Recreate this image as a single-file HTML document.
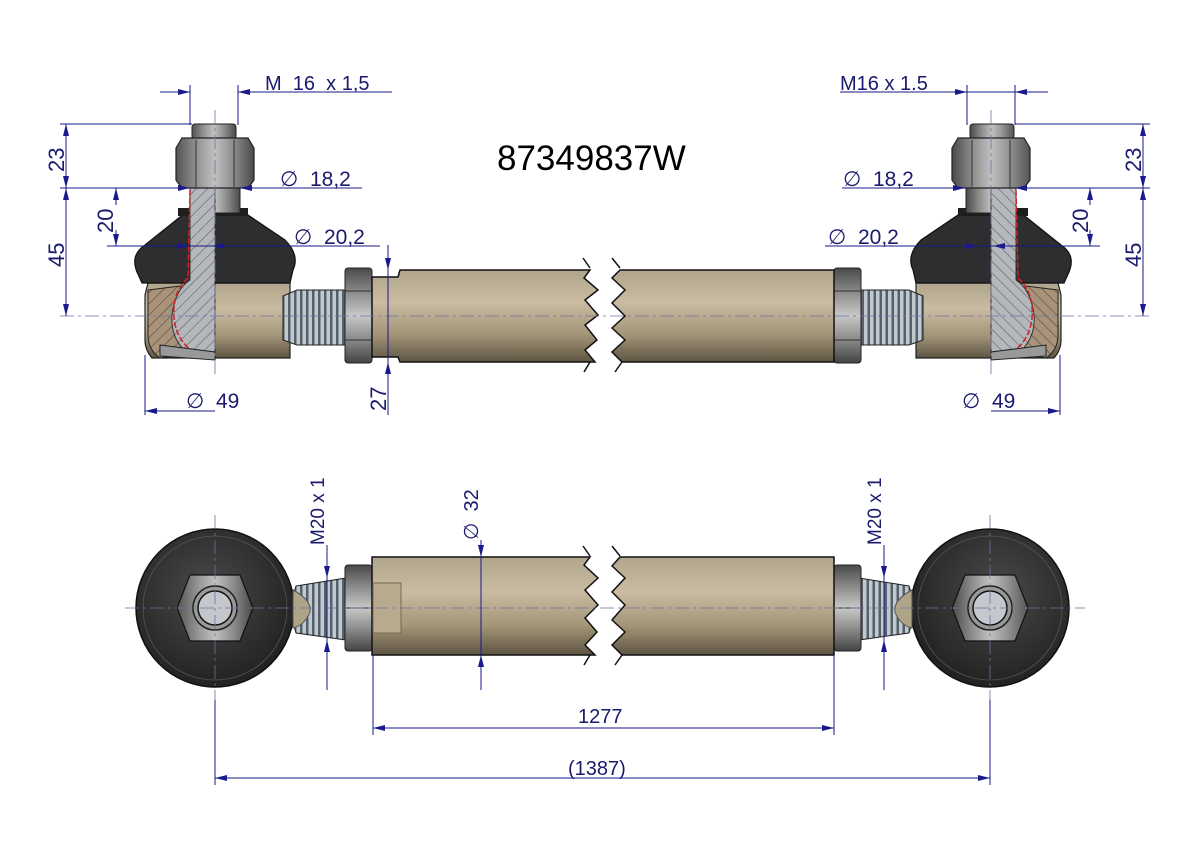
<!DOCTYPE html>
<html><head><meta charset="utf-8"><style>
html,body{margin:0;padding:0;background:#fff}
svg{display:block}
text{font-family:"Liberation Sans",sans-serif;fill:#1a1a6e}
</style></head><body>
<svg width="1191" height="842" viewBox="0 0 1191 842" xmlns="http://www.w3.org/2000/svg">
<defs>
<linearGradient id="tube" x1="0" y1="0" x2="0" y2="1">
<stop offset="0" stop-color="#b0a48c"/><stop offset="0.35" stop-color="#c9bca2"/><stop offset="0.7" stop-color="#a39578"/><stop offset="1" stop-color="#5e5443"/></linearGradient>
<linearGradient id="nut" x1="0" y1="0" x2="0" y2="1">
<stop offset="0" stop-color="#4a4a4a"/><stop offset="0.25" stop-color="#8a8a8a"/><stop offset="0.5" stop-color="#c8c8c8"/><stop offset="0.75" stop-color="#8a8a8a"/><stop offset="1" stop-color="#444"/></linearGradient>
<linearGradient id="hexn" x1="0" y1="0" x2="1" y2="0">
<stop offset="0" stop-color="#555"/><stop offset="0.3" stop-color="#9a9a9a"/><stop offset="0.5" stop-color="#c0c0c0"/><stop offset="0.75" stop-color="#8a8a8a"/><stop offset="1" stop-color="#4a4a4a"/></linearGradient>
<pattern id="thr" width="6" height="10" patternUnits="userSpaceOnUse">
<rect width="6" height="10" fill="#c0c8d0"/><rect width="2.5" height="10" fill="#55606a"/></pattern>
<pattern id="hatch" width="8" height="8" patternUnits="userSpaceOnUse" patternTransform="rotate(45)">
<rect width="8" height="8" fill="#b4b8bc"/><line x1="0" y1="0" x2="0" y2="8" stroke="#555" stroke-width="1"/></pattern>
<pattern id="hatch2" width="8" height="8" patternUnits="userSpaceOnUse" patternTransform="rotate(45)">
<rect width="8" height="8" fill="#a8937a"/><line x1="0" y1="0" x2="0" y2="8" stroke="#4a3a2a" stroke-width="1"/></pattern>
<radialGradient id="disk" cx="0.45" cy="0.4" r="0.6">
<stop offset="0" stop-color="#4a4a4a"/><stop offset="1" stop-color="#222"/></radialGradient>
<marker id="ar" markerWidth="12" markerHeight="6" refX="12" refY="3" orient="auto" markerUnits="userSpaceOnUse">
<path d="M0,0 L12,3 L0,6 z" fill="#1a1a8a"/></marker>

<g id="joint">
 <path d="M148,283 L290,283 L290,358 L152,358 Q145,350 145,340 L145,295 Z" fill="url(#tube)" stroke="#222" stroke-width="1.2"/>
 <path d="M148,290 L180,286 L200,300 L210,350 L160,358 Q148,350 148,335 Z" fill="url(#hatch2)" stroke="#222" stroke-width="1"/>
 <path d="M283,296 L297,290 L346,290 L346,345 L297,345 L283,340 Z" fill="url(#thr)" stroke="#222" stroke-width="1"/>
 <path d="M185,213 L245,213 L285,240 Q300,255 293,270 L290,283 L142,283 L137,272 Q130,255 145,245 Z" fill="#2e2e30" stroke="#111" stroke-width="1.2"/>
 <rect x="178" y="208" width="70" height="8" fill="#1e1e1e"/>
 <path d="M190,188 L240,188 L240,213 L190,213 Z" fill="url(#hexn)" stroke="#222" stroke-width="1"/>
 <path d="M190,188 L215,188 L215,355 L190,355 Q170,340 172,315 Q175,290 190,280 Z" fill="url(#hatch)" stroke="#333" stroke-width="1"/>
 <path d="M190,190 L188,278 Q172,292 174,318 Q177,345 200,355" fill="none" stroke="#d02020" stroke-width="1.5" stroke-dasharray="6,2"/>
 <path d="M160,345 L215,352 L215,360 L160,356 Z" fill="#999" stroke="#222"/>
 <rect x="192" y="124" width="44" height="15" rx="3" fill="url(#hexn)" stroke="#222"/>
 <path d="M182,138 L248,138 L254,148 L254,180 L248,188 L182,188 L176,180 L176,148 Z" fill="url(#hexn)" stroke="#222" stroke-width="1.2"/>
 <line x1="196" y1="140" x2="196" y2="187" stroke="#333"/><line x1="234" y1="140" x2="234" y2="187" stroke="#333"/>
</g>

<g id="bjoint">
 <circle cx="215" cy="608" r="79" fill="url(#disk)" stroke="#111" stroke-width="1.5"/>
 <circle cx="215" cy="608" r="72" fill="none" stroke="#555" stroke-width="0.8"/>
 <path d="M296,586 L346,578 L346,640 L296,633 Q288,608 296,586 Z" fill="url(#thr)" stroke="#222"/>
 <path d="M293,590 Q312,600 310,612 Q305,625 293,628 Z" fill="#b0a488" stroke="#555"/>
 <path d="M190,575 L240,575 L253,608 L240,641 L190,641 L177,608 Z" fill="url(#hexn)" stroke="#111" stroke-width="1.2"/>
 <circle cx="215" cy="608" r="22" fill="#999" stroke="#222" stroke-width="1.5"/>
 <circle cx="215" cy="608" r="17" fill="#c4c8cc" stroke="#111" stroke-width="1.5"/>
</g>
</defs>

<use href="#joint"/>
<use href="#joint" transform="translate(1206,0) scale(-1,1)"/>
<rect x="345" y="268" width="27" height="95" rx="3" fill="url(#nut)" stroke="#222"/>
<line x1="345" y1="291" x2="372" y2="291" stroke="#333"/><line x1="345" y1="340" x2="372" y2="340" stroke="#333"/>
<rect x="834" y="268" width="27" height="95" rx="3" fill="url(#nut)" stroke="#222"/>
<line x1="834" y1="291" x2="861" y2="291" stroke="#333"/><line x1="834" y1="340" x2="861" y2="340" stroke="#333"/>
<path d="M372,277 L398,277 L400,270 L590,270 L584,278 L598,290 L585,300 L598,315 L585,325 L597,340 L585,350 L595,362 L400,362 L398,357 L372,357 Z" fill="url(#tube)" stroke="#111" stroke-width="1.5"/>
<path d="M620,270 L834,270 L834,362 L622,362 L612,352 L625,340 L612,328 L625,316 L612,303 L625,290 L612,278 Z" fill="url(#tube)" stroke="#111" stroke-width="1.5"/>
<path d="M583,258 L590,268 M590,362 L584,372 M612,258 L620,268 M622,362 L615,372" stroke="#111" stroke-width="1.5"/>

<use href="#bjoint"/>
<use href="#bjoint" transform="translate(1205,0) scale(-1,1)"/>
<rect x="345" y="565" width="27" height="86" rx="3" fill="url(#nut)" stroke="#222"/>
<line x1="345" y1="608" x2="372" y2="608" stroke="#333"/>
<rect x="834" y="565" width="27" height="86" rx="3" fill="url(#nut)" stroke="#222"/>
<line x1="834" y1="608" x2="861" y2="608" stroke="#333"/>
<path d="M372,557 L590,557 L584,565 L598,578 L585,590 L598,605 L585,618 L597,632 L585,645 L595,655 L372,655 Z" fill="url(#tube)" stroke="#111" stroke-width="1.5"/>
<rect x="373" y="583" width="28" height="50" fill="#b8aa8e" stroke="#776a55"/>
<path d="M620,557 L834,557 L834,655 L622,655 L612,645 L625,632 L612,620 L625,605 L612,592 L625,578 L612,566 Z" fill="url(#tube)" stroke="#111" stroke-width="1.5"/>
<path d="M583,546 L590,556 M590,655 L584,665 M612,546 L620,556 M622,655 L615,665" stroke="#111" stroke-width="1.5"/>

<g stroke="#7070a0" stroke-width="0.8" stroke-dasharray="14,4,3,4" fill="none">
<line x1="60" y1="316" x2="1150" y2="316"/>
<line x1="215" y1="110" x2="215" y2="375"/><line x1="991" y1="110" x2="991" y2="375"/>
<line x1="125" y1="608" x2="1085" y2="608"/>
<line x1="215" y1="515" x2="215" y2="700"/><line x1="990" y1="515" x2="990" y2="700"/>
</g>

<g stroke="#1a1a8a" stroke-width="1" fill="none">
<line x1="160" y1="92" x2="190" y2="92" marker-end="url(#ar)"/><line x1="258" y1="92" x2="238" y2="92" marker-end="url(#ar)"/>
<line x1="238" y1="92" x2="392" y2="92"/>
<line x1="190" y1="85" x2="190" y2="125"/><line x1="238" y1="85" x2="238" y2="125"/>
<line x1="60" y1="124" x2="192" y2="124"/>
<line x1="60" y1="188" x2="190" y2="188"/>
<line x1="66" y1="140" x2="66" y2="124" marker-end="url(#ar)"/><line x1="66" y1="172" x2="66" y2="188" marker-end="url(#ar)"/>
<line x1="66" y1="205" x2="66" y2="188" marker-end="url(#ar)"/><line x1="66" y1="300" x2="66" y2="316" marker-end="url(#ar)"/>
<line x1="66" y1="140" x2="66" y2="172"/><line x1="66" y1="205" x2="66" y2="300"/>
<line x1="116" y1="205" x2="116" y2="188" marker-end="url(#ar)"/><line x1="116" y1="230" x2="116" y2="246" marker-end="url(#ar)"/>
<line x1="107" y1="246" x2="380" y2="246"/>
<line x1="170" y1="188" x2="190" y2="188" marker-end="url(#ar)"/><line x1="260" y1="188" x2="240" y2="188" marker-end="url(#ar)"/>
<line x1="240" y1="188" x2="362" y2="188"/>
<line x1="176" y1="246" x2="190" y2="246" marker-end="url(#ar)"/><line x1="228" y1="246" x2="212" y2="246" marker-end="url(#ar)"/>
<line x1="145" y1="355" x2="145" y2="415"/>
<line x1="175" y1="411" x2="145" y2="411" marker-end="url(#ar)"/><line x1="175" y1="411" x2="215" y2="411"/>
<line x1="388" y1="245" x2="388" y2="270" marker-end="url(#ar)"/><line x1="388" y1="380" x2="388" y2="362" marker-end="url(#ar)"/>
<line x1="388" y1="270" x2="388" y2="415"/>
<line x1="840" y1="92" x2="1048" y2="92"/>
<line x1="950" y1="92" x2="967" y2="92" marker-end="url(#ar)"/><line x1="1035" y1="92" x2="1015" y2="92" marker-end="url(#ar)"/>
<line x1="967" y1="85" x2="967" y2="125"/><line x1="1015" y1="85" x2="1015" y2="125"/>
<line x1="1015" y1="124" x2="1150" y2="124"/>
<line x1="1015" y1="188" x2="1150" y2="188"/>
<line x1="842" y1="188" x2="967" y2="188"/>
<line x1="950" y1="188" x2="965" y2="188" marker-end="url(#ar)"/><line x1="1033" y1="188" x2="1015" y2="188" marker-end="url(#ar)"/>
<line x1="1143" y1="140" x2="1143" y2="124" marker-end="url(#ar)"/><line x1="1143" y1="172" x2="1143" y2="188" marker-end="url(#ar)"/>
<line x1="1143" y1="140" x2="1143" y2="172"/>
<line x1="1143" y1="205" x2="1143" y2="188" marker-end="url(#ar)"/><line x1="1143" y1="300" x2="1143" y2="316" marker-end="url(#ar)"/>
<line x1="1143" y1="205" x2="1143" y2="300"/>
<line x1="1090" y1="205" x2="1090" y2="188" marker-end="url(#ar)"/><line x1="1090" y1="230" x2="1090" y2="246" marker-end="url(#ar)"/>
<line x1="825" y1="246" x2="1100" y2="246"/>
<line x1="962" y1="246" x2="978" y2="246" marker-end="url(#ar)"/><line x1="1008" y1="246" x2="993" y2="246" marker-end="url(#ar)"/>
<line x1="1060" y1="355" x2="1060" y2="415"/>
<line x1="1030" y1="411" x2="1060" y2="411" marker-end="url(#ar)"/><line x1="991" y1="411" x2="1030" y2="411"/>
<line x1="327" y1="545" x2="327" y2="690"/>
<line x1="327" y1="555" x2="327" y2="578" marker-end="url(#ar)"/><line x1="327" y1="660" x2="327" y2="640" marker-end="url(#ar)"/>
<line x1="884" y1="545" x2="884" y2="690"/>
<line x1="884" y1="555" x2="884" y2="578" marker-end="url(#ar)"/><line x1="884" y1="660" x2="884" y2="640" marker-end="url(#ar)"/>
<line x1="481" y1="540" x2="481" y2="690"/>
<line x1="481" y1="540" x2="481" y2="557" marker-end="url(#ar)"/><line x1="481" y1="672" x2="481" y2="655" marker-end="url(#ar)"/>
<line x1="373" y1="655" x2="373" y2="735"/><line x1="834" y1="655" x2="834" y2="735"/>
<line x1="390" y1="728" x2="373" y2="728" marker-end="url(#ar)"/><line x1="815" y1="728" x2="834" y2="728" marker-end="url(#ar)"/>
<line x1="390" y1="728" x2="815" y2="728"/>
<line x1="215" y1="700" x2="215" y2="785"/><line x1="990" y1="700" x2="990" y2="785"/>
<line x1="235" y1="778" x2="215" y2="778" marker-end="url(#ar)"/><line x1="970" y1="778" x2="990" y2="778" marker-end="url(#ar)"/>
<line x1="235" y1="778" x2="970" y2="778"/>
</g>

<text x="497" y="170" font-size="35" style="fill:#000">87349837W</text>
<text x="265" y="90" font-size="20" xml:space="preserve">M  16  x 1,5</text>
<text x="840" y="90" font-size="20">M16 x 1.5</text>
<text x="280" y="186" font-size="21" xml:space="preserve">∅  18,2</text>
<text x="294" y="244" font-size="21" xml:space="preserve">∅  20,2</text>
<text x="843" y="186" font-size="21" xml:space="preserve">∅  18,2</text>
<text x="828" y="244" font-size="21" xml:space="preserve">∅  20,2</text>
<text x="186" y="408" font-size="21" xml:space="preserve">∅  49</text>
<text x="962" y="408" font-size="21" xml:space="preserve">∅  49</text>
<text transform="translate(64,172) rotate(-90)" font-size="22">23</text>
<text transform="translate(64,267) rotate(-90)" font-size="22">45</text>
<text transform="translate(113,233) rotate(-90)" font-size="22">20</text>
<text transform="translate(386,411) rotate(-90)" font-size="22">27</text>
<text transform="translate(1141,172) rotate(-90)" font-size="22">23</text>
<text transform="translate(1141,267) rotate(-90)" font-size="22">45</text>
<text transform="translate(1088,233) rotate(-90)" font-size="22">20</text>
<text transform="translate(324,545) rotate(-90)" font-size="19">M20 x 1</text>
<text transform="translate(881,545) rotate(-90)" font-size="19">M20 x 1</text>
<text transform="translate(478,540) rotate(-90)" font-size="20" xml:space="preserve">∅  32</text>
<text x="578" y="723" font-size="20">1277</text>
<text x="568" y="775" font-size="20">(1387)</text>
</svg>
</body></html>
